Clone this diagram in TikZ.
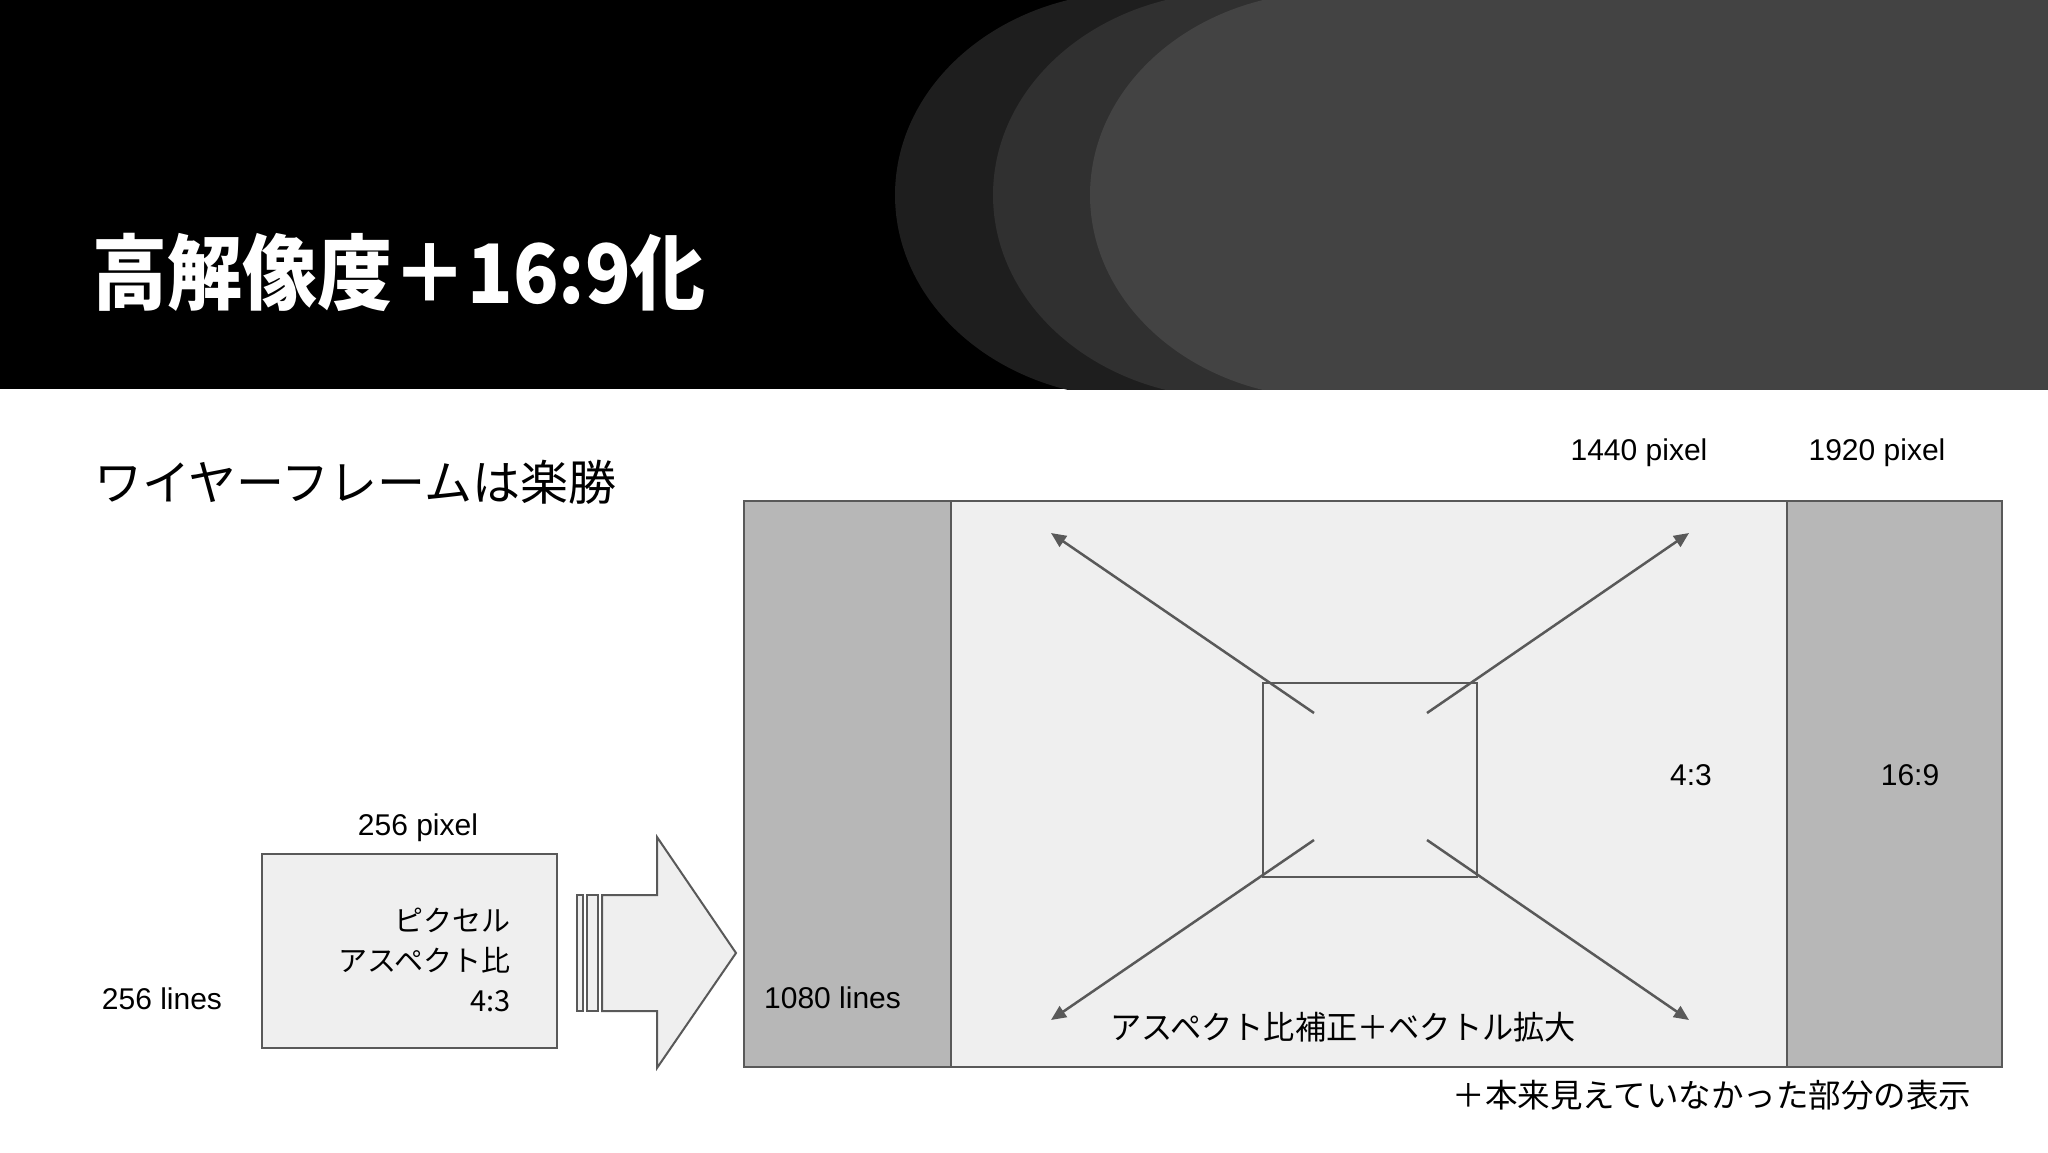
\documentclass[tikz,border=0pt]{standalone}
\usepackage{fontspec}
\setmainfont{Liberation Sans}
\newfontfamily\jp{Noto Sans CJK JP}
\usetikzlibrary{arrows.meta}
\definecolor{linegray}{HTML}{595959}
\definecolor{panelgray}{HTML}{B7B7B7}
\definecolor{lightfill}{HTML}{EFEFEF}
\definecolor{shadeA}{HTML}{1E1E1E}
\definecolor{shadeB}{HTML}{303030}
\definecolor{shadeC}{HTML}{434343}
\tikzset{
  boxline/.style={draw=linegray, line width=2.5pt},
  latinlabel/.style={inner sep=0pt, font=\fontsize{30}{36}\selectfont},
  jplabel/.style={inner sep=0pt, font=\jp\fontsize{32.5}{40}\selectfont},
  vecarrow/.style={draw=linegray, line width=2.5pt, -{Triangle[length=15pt,width=13pt]}},
}
\begin{document}
\begin{tikzpicture}[x=1pt,y=-1pt]
\useasboundingbox (0,0) rectangle (2048,1152);
\fill[white] (0,0) rectangle (2048,1152);
% header band
\fill[black] (0,0) rectangle (2048,389);
\begin{scope}
  \clip (0,0) rectangle (2048,389);
  \foreach \l/\c in {895/shadeA, 993/shadeB, 1090/shadeC} {
    \fill[\c] (\l+240,195) ellipse [x radius=240, y radius=203];
    \fill[\c] (\l+240,-10) rectangle (2048,400);
  }
\end{scope}
\node[anchor=west, inner sep=0pt, text=white, font=\jp\bfseries\fontsize{82}{90}\selectfont] (title) at (92,272) {\scalebox{0.915}[1]{高解像度＋16:9化}};
\node[anchor=west, inner sep=0pt, font=\jp\fontsize{48}{56}\selectfont] (subtitle) at (94,482) {ワイヤーフレームは楽勝};

% small source frame
\draw[boxline, fill=lightfill] (262,854) rectangle (557,1048);
\node (srcbox) at (409.5,951) {};
\node[latinlabel] (srcw) at (418,828) {256 pixel};
\node[latinlabel] (srch) at (162,999) {256 lines};
\node[anchor=east, align=right, inner sep=0pt, font=\jp\fontsize{29}{40}\selectfont] (srctext) at (511,960) {ピクセル\\アスペクト比\\4:3};

% big arrow with bars
\draw[draw=linegray, line width=2pt, fill=lightfill] (577,895) rectangle (583,1011);
\draw[draw=linegray, line width=2pt, fill=lightfill] (587,895) rectangle (598,1011);
\draw[draw=linegray, line width=2pt, fill=lightfill, line join=miter]
  (602,895) -- (657,895) -- (657,837) -- (736,953) -- (657,1068) -- (657,1011) -- (602,1011) -- cycle;

% target frame
\fill[panelgray] (744,501) rectangle (951,1067);
\fill[lightfill] (951,501) rectangle (1787,1067);
\fill[panelgray] (1787,501) rectangle (2002,1067);
\draw[boxline] (951,501) -- (951,1067);
\draw[boxline] (1787,501) -- (1787,1067);
\draw[boxline] (744,501) rectangle (2002,1067);

% inner 4:3 rectangle
\draw[boxline] (1263,683) rectangle (1477,877);

% expansion vectors
\coordinate (ulin) at (1314,713);
\coordinate (urin) at (1427,713);
\coordinate (llin) at (1314,840);
\coordinate (lrin) at (1427,840);
\coordinate (ulout) at (1051,533);
\coordinate (urout) at (1689,533);
\coordinate (llout) at (1051,1020);
\coordinate (lrout) at (1689,1020);
\draw[vecarrow] (ulin) -- (ulout);
\draw[vecarrow] (urin) -- (urout);
\draw[vecarrow] (llin) -- (llout);
\draw[vecarrow] (lrin) -- (lrout);

% labels
\node[latinlabel] (w1440) at (1639,453) {1440 pixel};
\node[latinlabel] (w1920) at (1877,453) {1920 pixel};
\node[latinlabel] (r43) at (1691,775) {4:3};
\node[latinlabel] (r169) at (1910,775) {16:9};
\node[latinlabel, anchor=west] (h1080) at (764,998) {1080 lines};
\node[jplabel] (fix) at (1343,1027) {\scalebox{0.96}[1]{アスペクト比補正＋ベクトル拡大}};
\node[jplabel] (extra) at (1712,1095) {＋本来見えていなかった部分の表示};
\end{tikzpicture}
\end{document}
